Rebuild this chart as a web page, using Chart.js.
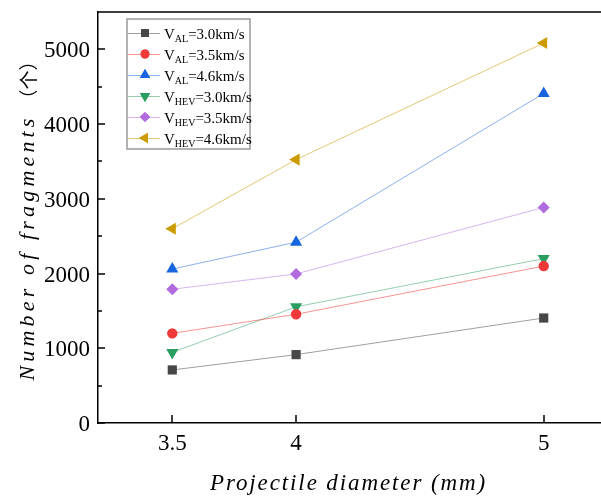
<!DOCTYPE html>
<html>
<head>
<meta charset="utf-8">
<script src="https://cdn.jsdelivr.net/npm/chart.js@4.4.1/dist/chart.umd.min.js"></script>
<style>
  html, body { margin: 0; padding: 0; background: #fff; overflow: hidden; }
  #wrap { width: 601px; height: 497px; overflow: hidden; }
  canvas { display: block; }
</style>
</head>
<body>
<div id="wrap"><canvas id="chart" width="620" height="497"></canvas></div>
<script>
// projectile diameter (mm)
const diameters = [3.5, 4, 5];
const xTicks = [3.5, 4, 5];
const yMajor = [0, 1000, 2000, 3000, 4000, 5000];
const yMinor = [500, 1500, 2500, 3500, 4500, 5500];

// number of fragments for each impact case
const al30 = [710, 915, 1405];
const al35 = [1200, 1455, 2100];
const al46 = [2060, 2420, 4410];
const hev30 = [945, 1555, 2200];
const hev35 = [1790, 1995, 2885];
const hev46 = [2600, 3525, 5085];

const subs = ['AL', 'AL', 'AL', 'HEV', 'HEV', 'HEV'];
const speeds = ['3.0km/s', '3.5km/s', '4.6km/s', '3.0km/s', '3.5km/s', '4.6km/s'];

const SERIF = '"Liberation Serif", "Times New Roman", serif';

const styles = [
  { color: '#474747', line: 'rgba(80,80,80,0.55)', shape: 'rect', r: 6.5, rot: 0 },
  { color: '#f03a3a', line: 'rgba(240,58,58,0.55)', shape: 'circle', r: 5.2, rot: 0 },
  { color: '#1766df', line: 'rgba(23,102,223,0.5)', shape: 'triangle', r: 7, rot: 0 },
  { color: '#2a9e5f', line: 'rgba(42,158,95,0.5)', shape: 'triangle', r: 7, rot: 180 },
  { color: '#b06cde', line: 'rgba(176,108,222,0.5)', shape: 'rectRot', r: 6, rot: 0 },
  { color: '#cc9b00', line: 'rgba(204,155,0,0.55)', shape: 'triangle', r: 7, rot: -90 }
];
const seriesData = [al30, al35, al46, hev30, hev35, hev46];

const datasets = seriesData.map((vals, i) => ({
  label: 'V' + subs[i] + '=' + speeds[i],
  data: vals.map((v, j) => ({ x: diameters[j], y: v })),
  borderColor: styles[i].line,
  borderWidth: 1,
  backgroundColor: styles[i].color,
  pointBackgroundColor: styles[i].color,
  pointBorderColor: styles[i].color,
  pointBorderWidth: 0,
  pointStyle: styles[i].shape,
  pointRadius: styles[i].r,
  pointRotation: styles[i].rot,
  tension: 0
}));

function fitText(ctx, text, target) {
  ctx.letterSpacing = '0px';
  const w = ctx.measureText(text).width;
  const ls = Math.max(0, (target - w) / text.length);
  ctx.letterSpacing = ls.toFixed(2) + 'px';
}

// inward ticks, tick labels, top frame, axis titles and the legend box
const decor = {
  id: 'decor',
  afterDraw(chart) {
    const { ctx, chartArea: a, scales: { x, y } } = chart;
    ctx.save();
    ctx.strokeStyle = '#000';
    ctx.lineWidth = 1.5;
    ctx.beginPath();
    ctx.moveTo(a.left, a.top);
    ctx.lineTo(a.right, a.top);
    yMajor.forEach(v => {
      const py = Math.round(y.getPixelForValue(v));
      ctx.moveTo(a.left, py); ctx.lineTo(a.left + 7, py);
    });
    yMinor.forEach(v => {
      const py = Math.round(y.getPixelForValue(v));
      ctx.moveTo(a.left, py); ctx.lineTo(a.left + 4, py);
    });
    xTicks.forEach(v => {
      const px = Math.round(x.getPixelForValue(v));
      ctx.moveTo(px, a.bottom); ctx.lineTo(px, a.bottom - 8);
    });
    ctx.stroke();

    // tick labels
    ctx.fillStyle = '#000';
    ctx.font = '23px ' + SERIF;
    ctx.textBaseline = 'alphabetic';
    ctx.textAlign = 'right';
    yMajor.forEach(v => ctx.fillText(String(v), a.left - 8, y.getPixelForValue(v) + 8));
    ctx.textAlign = 'center';
    xTicks.forEach(v => ctx.fillText(String(v), x.getPixelForValue(v), 450));

    // x title
    ctx.textAlign = 'left';
    ctx.font = 'italic 23px ' + SERIF;
    const xt = 'Projectile diameter (mm)';
    fitText(ctx, xt, 277);
    ctx.fillText(xt, 210, 490);

    // y title
    ctx.save();
    ctx.translate(28, 214);
    ctx.rotate(-Math.PI / 2);
    ctx.textBaseline = 'middle';
    const yt = 'Number of fragments';
    ctx.font = 'italic 22px ' + SERIF;
    fitText(ctx, yt, 266);
    ctx.fillText(yt, -333 / 2, 0);
    ctx.letterSpacing = '0px';
    ctx.font = '19px "Noto Sans CJK SC", sans-serif';
    ctx.fillText('（个）', -333 / 2 + 272, 1);
    ctx.restore();

    // legend
    ctx.letterSpacing = '0px';
    ctx.fillStyle = '#fff';
    ctx.fillRect(127, 19, 123, 130);
    ctx.strokeStyle = '#9a9a9a';
    ctx.lineWidth = 1.5;
    ctx.strokeRect(127, 19, 123, 130);
    datasets.forEach((ds, i) => {
      const cy = 33 + i * 21;
      const st = styles[i];
      ctx.strokeStyle = st.line;
      ctx.lineWidth = 1;
      ctx.beginPath();
      ctx.moveTo(128, cy + 0.5); ctx.lineTo(160, cy + 0.5);
      ctx.stroke();
      ctx.fillStyle = st.color;
      Chart.helpers.drawPoint(ctx, { pointStyle: st.shape, radius: st.r * 0.85, rotation: st.rot, borderWidth: 0 }, 145, cy);
      ctx.fill();
      ctx.fillStyle = '#000';
      ctx.textAlign = 'left';
      ctx.textBaseline = 'alphabetic';
      ctx.font = '15px ' + SERIF;
      ctx.fillText('V', 164, cy + 6);
      const vw = ctx.measureText('V').width;
      ctx.font = '10px ' + SERIF;
      ctx.fillText(subs[i], 164 + vw, cy + 9);
      const sw = ctx.measureText(subs[i]).width;
      ctx.font = '15px ' + SERIF;
      ctx.fillText('=' + speeds[i], 164 + vw + sw, cy + 6);
    });
    ctx.restore();
  }
};

new Chart(document.getElementById('chart'), {
  type: 'line',
  data: { datasets },
  options: {
    responsive: false,
    animation: false,
    devicePixelRatio: 1,
    layout: { autoPadding: false, padding: { top: 12, right: 2, left: 0, bottom: 0 } },
    plugins: { legend: { display: false }, tooltip: { enabled: false } },
    scales: {
      x: {
        type: 'linear',
        min: 3.2,
        max: 5.3,
        afterBuildTicks: s => { s.ticks = xTicks.map(v => ({ value: v })); },
        afterFit: s => { s.height = 74; },
        grid: { drawOnChartArea: false, drawTicks: false },
        border: { color: '#000', width: 1.5 },
        ticks: { display: false }
      },
      y: {
        type: 'linear',
        min: 0,
        max: 5500,
        afterBuildTicks: s => { s.ticks = yMajor.map(v => ({ value: v })); },
        afterFit: s => { s.width = 98; },
        grid: { drawOnChartArea: false, drawTicks: false },
        border: { color: '#000', width: 1.5 },
        ticks: { display: false }
      }
    }
  },
  plugins: [decor]
});
</script>
</body>
</html>
